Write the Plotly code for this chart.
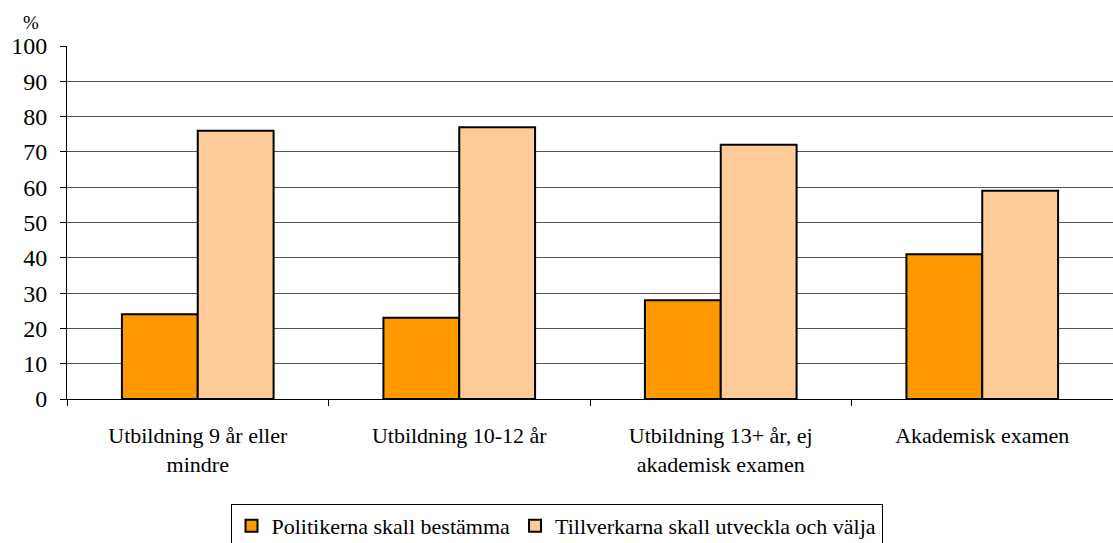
import plotly.graph_objects as go

categories = [
    "Utbildning 9 år eller<br>mindre",
    "Utbildning 10-12 år",
    "Utbildning 13+ år, ej<br>akademisk examen",
    "Akademisk examen",
]
politiker = [24, 23, 28, 41]
tillverkare = [76, 77, 72, 59]
y_ticks = list(range(0, 101, 10))

FONT = "Liberation Serif, Times New Roman, serif"

fig = go.Figure()
fig.add_trace(
    go.Bar(
        name="Politikerna skall bestämma",
        x=categories,
        y=politiker,
        marker=dict(color="#FF9900", line=dict(color="black", width=2)),
    )
)
fig.add_trace(
    go.Bar(
        name="Tillverkarna skall utveckla och välja",
        x=categories,
        y=tillverkare,
        marker=dict(color="#FFCC99", line=dict(color="black", width=2)),
    )
)

fig.update_layout(
    width=1113,
    height=543,
    margin=dict(l=67, r=0, t=46, b=144),
    plot_bgcolor="white",
    paper_bgcolor="white",
    font=dict(family=FONT, size=22, color="black"),
    barmode="group",
    bargap=0.42,
    bargroupgap=0,
    showlegend=True,
    legend=dict(
        orientation="h",
        xref="container",
        yref="container",
        x=0.5,
        xanchor="center",
        y=0.072,
        yanchor="top",
        bordercolor="black",
        borderwidth=1,
        font=dict(size=22),
        itemwidth=30,
        tracegroupgap=0,
    ),
)
fig.update_xaxes(
    automargin=False,
    showline=True,
    linecolor="black",
    linewidth=1,
    ticks="outside",
    tickson="boundaries",
    ticklen=6,
    tickcolor="black",
    ticklabelstandoff=17,
    tickfont=dict(size=22),
    showgrid=False,
)
fig.update_yaxes(
    automargin=False,
    range=[0, 100],
    tickvals=y_ticks,
    showline=True,
    linecolor="black",
    linewidth=1,
    ticks="outside",
    ticklen=6,
    tickcolor="black",
    ticklabelstandoff=8,
    tickfont=dict(size=24),
    showgrid=True,
    gridcolor="#555555",
    gridwidth=1,
    zeroline=False,
)
fig.add_annotation(
    text="%",
    xref="paper",
    yref="paper",
    x=0,
    y=1,
    xshift=-45,
    yshift=35,
    showarrow=False,
    borderpad=0,
    font=dict(size=19),
)

fig.write_html(
    "out.html",
    config={"displayModeBar": False},
    post_script="document.body.style.margin='0';",
)
